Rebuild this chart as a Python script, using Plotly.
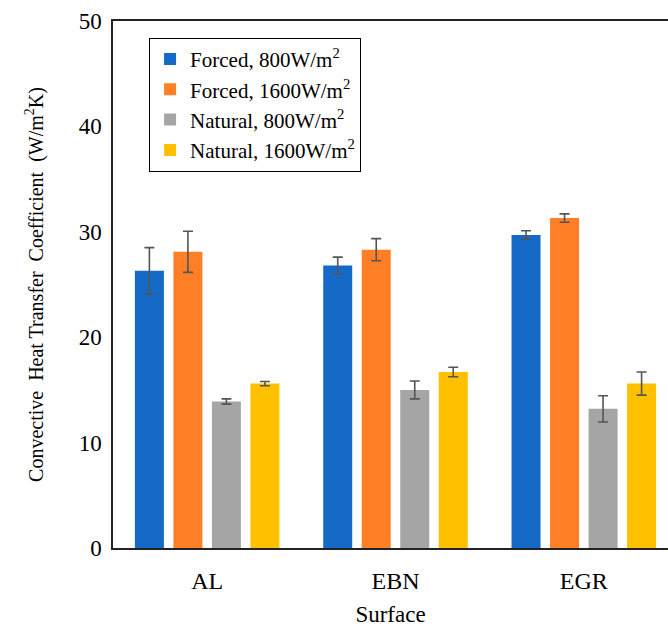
import plotly.graph_objects as go

surfaces = ["AL", "EBN", "EGR"]
series_names = ["Forced, 800W/m<sup>2</sup>", "Forced, 1600W/m<sup>2</sup>",
                "Natural, 800W/m<sup>2</sup>", "Natural, 1600W/m<sup>2</sup>"]
forced_800 = [26.3, 26.8, 29.7]
forced_1600 = [28.1, 28.3, 31.3]
natural_800 = [13.9, 15.0, 13.2]
natural_1600 = [15.6, 16.7, 15.6]
err_forced_800 = [2.2, 0.8, 0.4]
err_forced_1600 = [1.95, 1.05, 0.4]
err_natural_800 = [0.25, 0.85, 1.25]
err_natural_1600 = [0.2, 0.45, 1.1]
colors = ["#1569C7", "#FF7F27", "#A5A5A5", "#FFC000"]

values = [forced_800, forced_1600, natural_800, natural_1600]
errors = [err_forced_800, err_forced_1600, err_natural_800, err_natural_1600]

font_family = "Liberation Serif"

fig = go.Figure()
for name, vals, errs, col in zip(series_names, values, errors, colors):
    fig.add_trace(go.Bar(
        x=surfaces, y=vals, name=name, marker=dict(color=col, line=dict(width=0)),
        error_y=dict(type="data", array=errs, visible=True, color="#555555",
                     thickness=1.6, width=5),
    ))

fig.update_layout(
    width=668, height=627,
    paper_bgcolor="white", plot_bgcolor="white",
    margin=dict(l=113, r=0, t=21, b=79),
    barmode="group", bargap=0.182, bargroupgap=0.247,
    font=dict(family=font_family, size=20, color="black"),
    legend=dict(
        x=0.065, y=0.968, xanchor="left", yanchor="top",
        bordercolor="black", borderwidth=1, bgcolor="white",
        font=dict(family=font_family, size=21, color="black"),
        tracegroupgap=0, itemwidth=30,
    ),
    showlegend=True,
)
fig.update_xaxes(
    range=[-0.5, 2.447], showline=True, linecolor="#222222", linewidth=1.5,
    mirror=True, ticks="", showgrid=False, ticklabelstandoff=10,
    title=dict(text="Surface", font=dict(family=font_family, size=23), standoff=14),
    tickfont=dict(family=font_family, size=24),
)
fig.update_yaxes(
    range=[0, 50], dtick=10, showline=True, linecolor="#222222", linewidth=1.5,
    ticks="", showgrid=False, zeroline=False, ticklabelstandoff=5,
    title=dict(text="Convective  Heat Transfer  Coefficient  (W/m<sup>2</sup>K)",
               font=dict(family=font_family, size=20), standoff=30),
    tickfont=dict(family=font_family, size=23),
)

fig.write_html("out.html")
